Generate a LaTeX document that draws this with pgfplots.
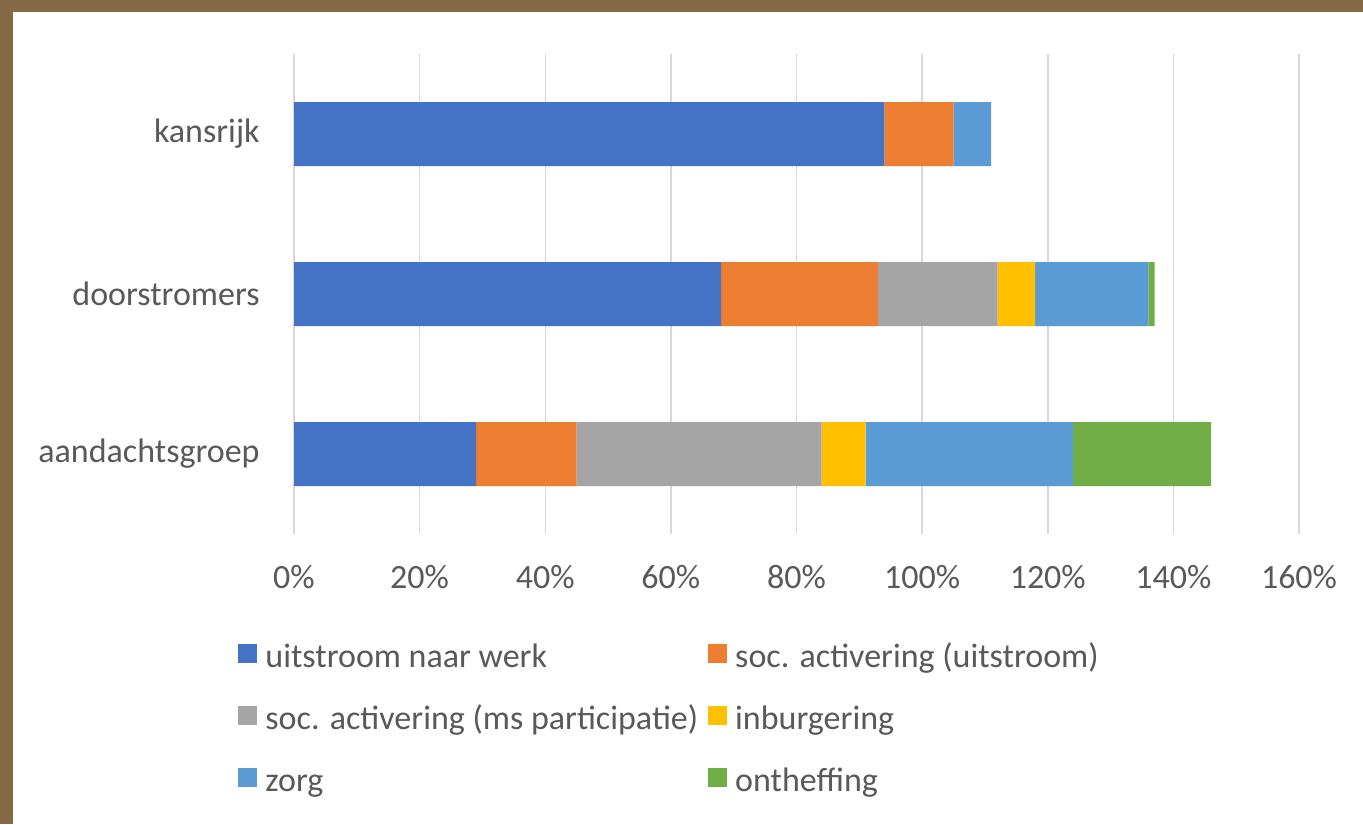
\documentclass[border=0pt]{standalone}
\usepackage{fontspec}
\setmainfont{Carlito}
\usepackage{pgfplots}
\pgfplotsset{compat=1.18}
\definecolor{frame}{RGB}{133,105,70}
\definecolor{txt}{RGB}{89,89,89}
\definecolor{gridc}{RGB}{217,217,217}
\definecolor{cA}{RGB}{68,114,196}
\definecolor{cB}{RGB}{237,125,49}
\definecolor{cC}{RGB}{165,165,165}
\definecolor{cD}{RGB}{255,192,0}
\definecolor{cE}{RGB}{91,155,213}
\definecolor{cF}{RGB}{112,173,71}
\begin{document}
\begin{tikzpicture}
\fill[frame] (0,0) rectangle (681.5pt,-412pt);
\fill[white] (6.5pt,-6pt) rectangle (681.5pt,-412pt);
\useasboundingbox (0,0) rectangle (681.5pt,-412pt);
\begin{axis}[
  at={(147pt,-267pt)}, anchor=south west,
  scale only axis, width=502.5pt, height=240pt,
  xbar stacked, bar width=32pt,
  xmin=0, xmax=160, ymin=-0.5, ymax=2.5,
  xtick={0,20,40,60,80,100,120,140,160},
  xticklabels={0\%,20\%,40\%,60\%,80\%,100\%,120\%,140\%,160\%},
  ytick={0,1,2},
  yticklabels={aandachtsgroep,doorstromers,kansrijk},
  xmajorgrids, grid style={gridc, line width=0.75pt},
  axis line style={draw=none},
  major tick length=0pt,
  tick style={draw=none},
  every tick label/.append style={font=\fontsize{17}{20}\selectfont, text=txt, inner sep=0pt},
  yticklabel style={anchor=east, xshift=-17pt},
  xticklabel style={anchor=north, yshift=-15.5pt},
  legend columns=2,
  legend cell align=left,
  legend style={at={(-0.0557,-0.2271)}, anchor=north west, draw=none, fill=none,
    inner sep=0pt, row sep=15pt,
    font=\fontsize{17}{20}\selectfont, text=txt,
    nodes={inner sep=0pt, text height=12pt, text depth=4pt},
    /tikz/every odd column/.append style={column sep=4pt},
    /tikz/every even column/.append style={column sep=5pt}},
  legend image code/.code={\fill[#1] (0pt,-2pt) rectangle (9.5pt,7.5pt);},
]
\addplot[fill=cA, draw=none] coordinates {(29,0) (68,1) (94,2)};
\addlegendentry{uitstroom naar werk}
\addplot[fill=cB, draw=none] coordinates {(16,0) (25,1) (11,2)};
\addlegendentry{soc. activering (uitstroom)}
\addplot[fill=cC, draw=none] coordinates {(39,0) (19,1) (0,2)};
\addlegendentry{soc. activering (ms participatie)}
\addplot[fill=cD, draw=none] coordinates {(7,0) (6,1) (0,2)};
\addlegendentry{inburgering}
\addplot[fill=cE, draw=none] coordinates {(33,0) (18,1) (6,2)};
\addlegendentry{zorg}
\addplot[fill=cF, draw=none] coordinates {(22,0) (1,1) (0,2)};
\addlegendentry{ontheffing}
\end{axis}
\end{tikzpicture}
\end{document}
